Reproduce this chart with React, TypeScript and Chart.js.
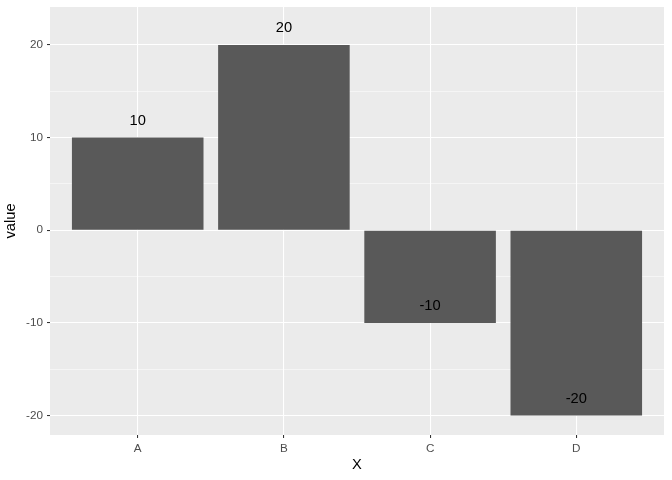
import React, { useEffect, useRef } from "react";
import { Chart, registerables } from "chart.js";

Chart.register(...registerables);

const categories = ["A", "B", "C", "D"];
const values = [10, 20, -10, -20];
const yTicks = [-20, -15, -10, -5, 0, 5, 10, 15, 20];
const labelOffset = 1.8;

const FONT = '"Liberation Sans", Arial, sans-serif';

export default function App() {
  const ref = useRef<HTMLCanvasElement | null>(null);

  useEffect(() => {
    if (!ref.current) return;
    const panelPlugin = {
      id: "panel",
      beforeDraw(chart: any) {
        const { ctx, chartArea } = chart;
        ctx.save();
        ctx.fillStyle = "#FFFFFF";
        ctx.fillRect(0, 0, chart.width, chart.height);
        ctx.fillStyle = "#EBEBEB";
        ctx.fillRect(chartArea.left, chartArea.top, chartArea.right - chartArea.left, chartArea.bottom - chartArea.top);
        ctx.restore();
      },
    };
    const labelPlugin = {
      id: "barLabels",
      afterDatasetsDraw(chart: any) {
        const { ctx } = chart;
        const xs = chart.scales.x;
        const ys = chart.scales.y;
        ctx.save();
        ctx.fillStyle = "#000000";
        ctx.font = `14.7px ${FONT}`;
        ctx.textAlign = "center";
        ctx.textBaseline = "middle";
        values.forEach((v, i) => {
          ctx.fillText(String(v), xs.getPixelForValue(i), ys.getPixelForValue(v + labelOffset));
        });
        ctx.restore();
      },
    };
    const chart = new Chart(ref.current, {
      type: "bar",
      data: {
        datasets: [
          {
            data: values.map((v, i) => ({ x: i, y: v })),
            backgroundColor: "#595959",
            borderWidth: 0,
            categoryPercentage: 1,
            barPercentage: 0.9,
          },
        ],
      },
      options: {
        responsive: false,
        animation: false,
        devicePixelRatio: 1,
        layout: { padding: { left: 0, right: 8, top: 7, bottom: 0 } },
        plugins: { legend: { display: false }, tooltip: { enabled: false } },
        scales: {
          x: {
            type: "linear",
            min: -0.6,
            max: 3.6,
            offset: false,
            afterBuildTicks: (scale: any) => {
              scale.ticks = categories.map((_, i) => ({ value: i }));
            },
            afterFit: (scale: any) => {
              scale.height = 45;
              scale.paddingLeft = 0;
              scale.paddingRight = 0;
            },
            grid: {
              offset: false,
              color: "#FFFFFF",
              lineWidth: 1.07,
              drawTicks: true,
              tickLength: 3,
              tickColor: "#333333",
              tickWidth: 1.07,
            },
            border: { display: false },
            ticks: {
              padding: 4,
              color: "#4D4D4D",
              font: { family: FONT, size: 11.7 },
              maxRotation: 0,
              autoSkip: false,
              callback: (v: any) => categories[v] ?? "",
            },
            title: {
              display: true,
              text: "X",
              color: "#000000",
              font: { family: FONT, size: 14.7 },
              padding: { top: 0, bottom: 6 },
            },
          },
          y: {
            type: "linear",
            min: -22.1,
            max: 24.1,
            afterBuildTicks: (scale: any) => {
              scale.ticks = yTicks.map((v) => ({ value: v }));
            },
            afterFit: (scale: any) => {
              scale.width = 50;
              scale.paddingTop = 0;
              scale.paddingBottom = 0;
            },
            grid: {
              color: "#FFFFFF",
              lineWidth: (c: any) => (c.tick && c.tick.value % 10 === 0 ? 1.07 : 0.53),
              drawTicks: true,
              tickLength: 3,
              tickColor: (c: any) => (c.tick && c.tick.value % 10 === 0 ? "#333333" : "rgba(0,0,0,0)"),
              tickWidth: 1.07,
            },
            border: { display: false },
            ticks: {
              padding: 4,
              color: "#4D4D4D",
              font: { family: FONT, size: 11.7 },
              autoSkip: false,
              callback: (v: any) => (v % 10 === 0 ? String(v) : ""),
            },
            title: {
              display: true,
              text: "value",
              color: "#000000",
              font: { family: FONT, size: 14.7 },
              padding: { top: 2, bottom: 0 },
            },
          },
        },
      },
      plugins: [panelPlugin, labelPlugin],
    } as any);
    return () => chart.destroy();
  }, []);

  return (
    <div style={{ position: "absolute", left: 0, top: 0, width: 672, height: 480 }}>
      <canvas ref={ref} width={672} height={480} style={{ width: 672, height: 480, display: "block" }} />
    </div>
  );
}
